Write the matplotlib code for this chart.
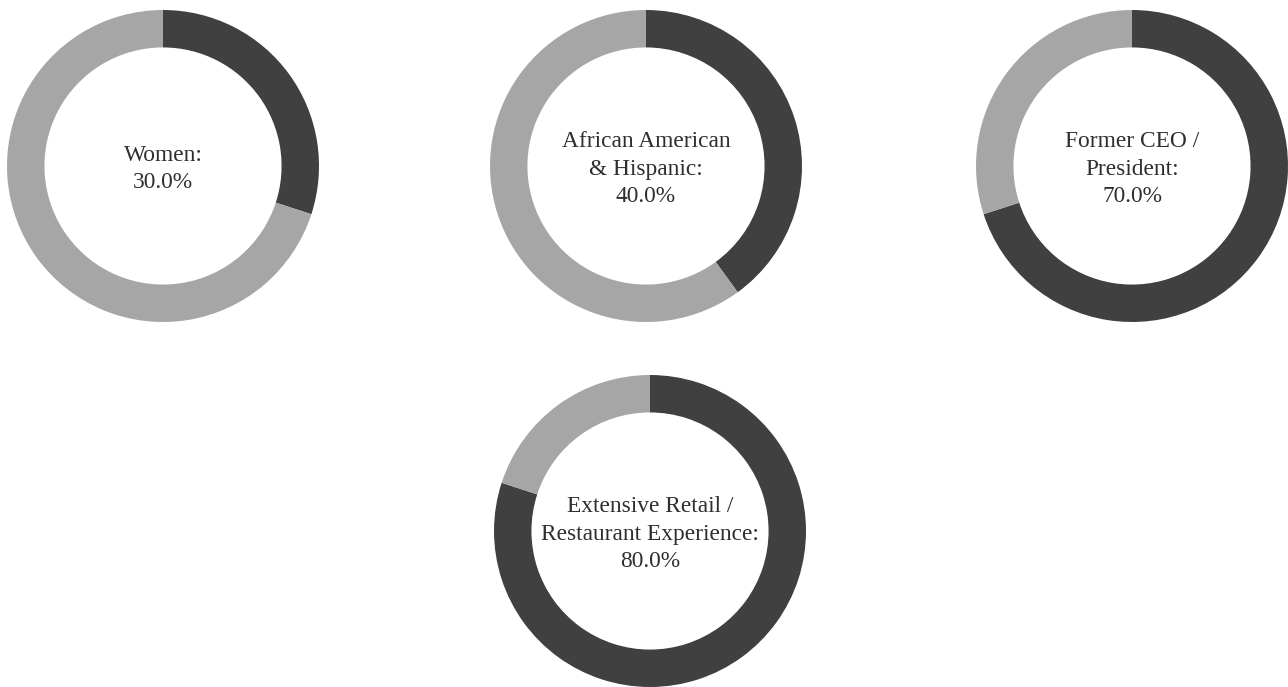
import matplotlib
matplotlib.use("Agg")
import matplotlib.pyplot as plt

labels = ["Women:", "African American\n& Hispanic:", "Former CEO /\nPresident:",
          "Extensive Retail /\nRestaurant Experience:"]
values = [30.0, 40.0, 70.0, 80.0]

centers_px = [(163, 166), (646, 166), (1132, 166), (650, 531)]
radius_px = 156
W, H = 1288, 687
dark = "#404040"
light = "#a6a6a6"

fig = plt.figure(figsize=(W / 100, H / 100), dpi=100)
fig.patch.set_facecolor("white")

for lab, v, (cx, cy) in zip(labels, values, centers_px):
    ax = fig.add_axes([(cx - radius_px) / W, 1 - (cy + radius_px) / H,
                       2 * radius_px / W, 2 * radius_px / H])
    ax.pie([v, 100 - v], colors=[dark, light], startangle=90, counterclock=False,
           radius=1.0, wedgeprops=dict(width=0.24, linewidth=0))
    ax.set_xlim(-1, 1)
    ax.set_ylim(-1, 1)
    ax.set_aspect("equal")
    ax.axis("off")
    ax.text(0, -0.02, f"{lab}\n{v:.1f}%", ha="center", va="center",
            fontsize=16.8, family="Liberation Serif", color="#2e2e2e",
            linespacing=1.42)

fig.savefig("out.png", dpi=100)
